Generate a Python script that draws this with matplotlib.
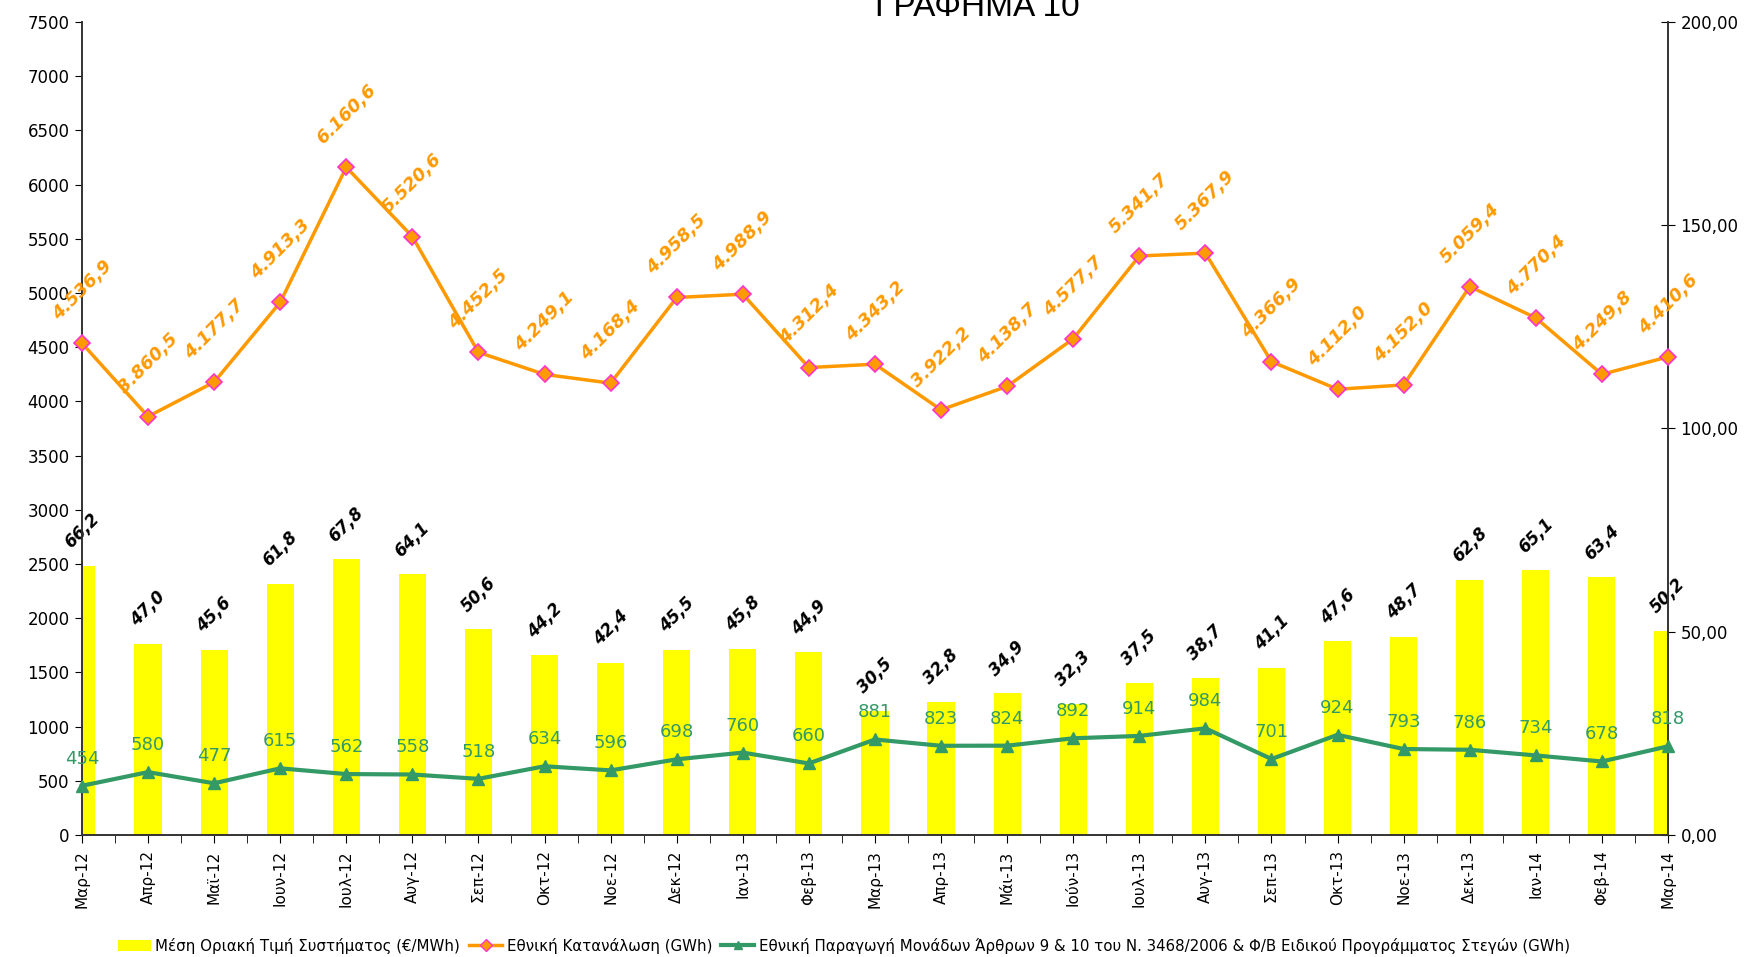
import matplotlib
matplotlib.use("Agg")
import numpy as np
import matplotlib.pyplot as plt
from matplotlib.patches import Patch
from matplotlib.lines import Line2D
from matplotlib.ticker import FuncFormatter, MultipleLocator

months = ["Μαρ-12", "Απρ-12", "Μαϊ-12", "Ιουν-12", "Ιουλ-12", "Αυγ-12", "Σεπ-12",
          "Οκτ-12", "Νοε-12", "Δεκ-12", "Ιαν-13", "Φεβ-13", "Μαρ-13", "Απρ-13",
          "Μάι-13", "Ιούν-13", "Ιουλ-13", "Αυγ-13", "Σεπ-13", "Οκτ-13", "Νοε-13",
          "Δεκ-13", "Ιαν-14", "Φεβ-14", "Μαρ-14"]

price = [66.2, 47.0, 45.6, 61.8, 67.8, 64.1, 50.6, 44.2, 42.4, 45.5, 45.8, 44.9,
         30.5, 32.8, 34.9, 32.3, 37.5, 38.7, 41.1, 47.6, 48.7, 62.8, 65.1, 63.4, 50.2]

consumption = [4536.9, 3860.5, 4177.7, 4913.3, 6160.6, 5520.6, 4452.5, 4249.1,
               4168.4, 4958.5, 4988.9, 4312.4, 4343.2, 3922.2, 4138.7, 4577.7,
               5341.7, 5367.9, 4366.9, 4112.0, 4152.0, 5059.4, 4770.4, 4249.8, 4410.6]

production = [454, 580, 477, 615, 562, 558, 518, 634, 596, 698, 760, 660, 881,
              823, 824, 892, 914, 984, 701, 924, 793, 786, 734, 678, 818]

legend_labels = ["Μέση Οριακή Τιμή Συστήματος (€/MWh)",
                 "Εθνική Κατανάλωση (GWh)",
                 "Εθνική Παραγωγή Μονάδων Άρθρων 9 & 10 του Ν. 3468/2006 & Φ/Β Ειδικού Προγράμματος Στεγών (GWh)"]

YELLOW = "#FFFF00"
ORANGE = "#FF9900"
PINK = "#FF33CC"
GREEN = "#339966"

plt.rcParams["font.family"] = ["DejaVu Sans"]


def gr_num(v, dec):
    s = f"{v:,.{dec}f}"
    return s.replace(",", "X").replace(".", ",").replace("X", ".")


fig = plt.figure(figsize=(17.58, 9.57), dpi=100)
ax = fig.add_axes([0.0466, 0.1275, 0.9022, 0.8495])
ax2 = ax.twinx()
x = np.arange(len(months))

# bars on the price (right) scale
ax.bar(x, price, width=0.41, color=YELLOW, zorder=2)
ax.set_ylim(0, 200)
ax.set_xlim(0, len(months) - 1)
for xi, v in zip(x, price):
    ax.annotate(gr_num(v, 1), (xi, v), xytext=(0, 10), textcoords="offset points",
                ha="center", va="bottom", rotation=45, fontsize=12,
                fontweight="bold", style="italic", color="black", annotation_clip=False)

# lines on the GWh (left) scale
ax2.set_ylim(0, 7500)
ax2.plot(x, consumption, color=ORANGE, lw=2.5, marker="D", markersize=8,
         markerfacecolor=ORANGE, markeredgecolor=PINK, markeredgewidth=1.2,
         clip_on=False, zorder=4)
ax2.plot(x, production, color=GREEN, lw=3, marker="^", markersize=8,
         markerfacecolor=GREEN, markeredgecolor=GREEN, clip_on=False, zorder=4)
for xi, v in zip(x, consumption):
    ax2.annotate(gr_num(v, 1), (xi, v), xytext=(0, 14), textcoords="offset points",
                 ha="center", va="bottom", rotation=45, fontsize=13,
                 fontweight="bold", style="italic", color=ORANGE, annotation_clip=False)
for xi, v in zip(x, production):
    ax2.annotate(f"{v}", (xi, v), xytext=(0, 13), textcoords="offset points",
                 ha="center", va="bottom", fontsize=13, color=GREEN,
                 annotation_clip=False)

# axis sides: price ticks right, GWh ticks left
ax.yaxis.tick_right()
ax.set_yticks([0, 50, 100, 150, 200])
ax.yaxis.set_major_formatter(FuncFormatter(lambda v, p: gr_num(v, 2)))
ax.tick_params(axis="y", direction="inout", length=10, labelsize=12, pad=4)
ax2.yaxis.tick_left()
ax2.yaxis.set_major_locator(MultipleLocator(500))
ax2.tick_params(axis="y", direction="out", length=5, labelsize=12, pad=4)

ax.set_xticks(x)
ax.set_xticklabels(months, rotation=90, fontsize=11)
ax.set_xticks(x[:-1] + 0.5, minor=True)
ax.tick_params(axis="x", which="both", direction="out", length=6, pad=5)
for a in (ax, ax2):
    a.spines["top"].set_visible(False)
    for s in ("left", "right", "bottom"):
        a.spines[s].set_color("#333333")
        a.spines[s].set_linewidth(1.2)

fig.text(0.556, 0.983, "ΓΡΑΦΗΜΑ 10", ha="center", va="baseline", fontsize=24,
         family=["Liberation Sans", "DejaVu Sans"])

handles = [Patch(facecolor=YELLOW, edgecolor="none"),
           Line2D([], [], color=ORANGE, lw=2.5, marker="D", markersize=6,
                  markerfacecolor=ORANGE, markeredgecolor=PINK),
           Line2D([], [], color=GREEN, lw=3, marker="^", markersize=6,
                  markerfacecolor=GREEN, markeredgecolor=GREEN)]
fig.legend(handles, legend_labels, loc="center", bbox_to_anchor=(0.48, 0.012),
           ncol=3, frameon=False, fontsize=10.8, handlelength=2.2, handletextpad=0.3,
           columnspacing=0.6, borderaxespad=0)

fig.savefig("out.png", dpi=100)
